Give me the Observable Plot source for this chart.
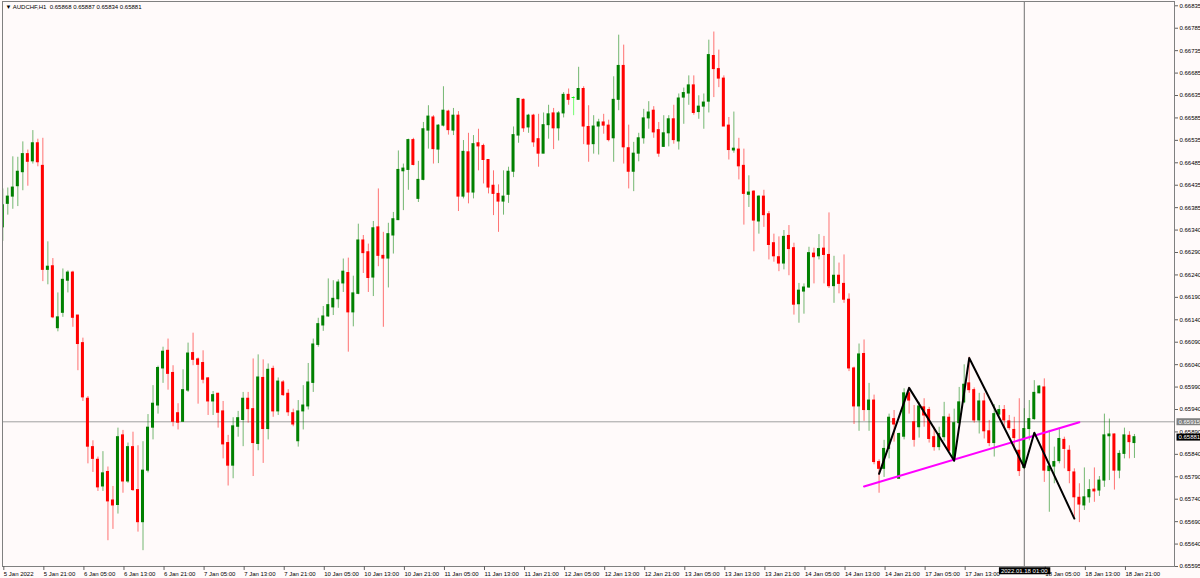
<!DOCTYPE html>
<html><head><meta charset="utf-8">
<script src="https://cdn.jsdelivr.net/npm/d3@7"></script>
<script src="https://cdn.jsdelivr.net/npm/@observablehq/plot@0.6"></script>
<style>
html,body{margin:0;padding:0;background:#fffafa;}
#chart{width:1200px;height:578px;overflow:hidden}
svg{display:block}
</style></head><body><div id="chart"></div>
<script>
const title = "\u25BC AUDCHF,H1  0.65868 0.65887 0.65834 0.65881";

const opens = [0.66345,0.66397,0.66413,0.66436,0.66467,0.66507,0.66491,0.66531,0.66481,0.66251,
0.66259,0.66122,0.66156,0.66227,0.66245,0.66150,0.66089,0.65966,0.65859,0.65831,
0.65772,0.65804,0.65741,0.65731,0.65885,0.65783,0.65859,0.65764,0.65693,0.65807,
0.65902,0.65951,0.66033,0.66072,0.66023,0.65934,0.65915,0.65984,0.66067,0.66053,
0.66045,0.66011,0.65960,0.65977,0.65938,0.65868,0.65818,0.65904,0.65919,0.65966,
0.65943,0.65866,0.66012,0.65899,0.66032,0.65938,0.66002,0.65977,0.65934,0.65872,
0.65938,0.65949,0.66001,0.66085,0.66128,0.66148,0.66168,0.66186,0.66221,0.66244,
0.66157,0.66198,0.66316,0.66290,0.66234,0.66345,0.66282,0.66276,0.66327,0.66361,
0.66469,0.66472,0.66538,0.66408,0.66450,0.66559,0.66588,0.66517,0.66570,0.66601,
0.66559,0.66592,0.66413,0.66511,0.66422,0.66531,0.66525,0.66494,0.66437,0.66419,
0.66402,0.66417,0.66468,0.66548,0.66627,0.66566,0.66592,0.66540,0.66508,0.66571,
0.66597,0.66564,0.66597,0.66638,0.66631,0.66627,0.66651,0.66567,0.66529,0.66568,
0.66577,0.66570,0.66542,0.66627,0.66702,0.66520,0.66468,0.66508,0.66542,0.66586,
0.66603,0.66560,0.66523,0.66553,0.66584,0.66535,0.66632,0.66641,0.66659,0.66600,
0.66612,0.66623,0.66724,0.66695,0.66674,0.66570,0.66515,0.66517,0.66481,0.66417,
0.66424,0.66358,0.66413,0.66374,0.66310,0.66279,0.66265,0.66326,0.66299,0.66175,
0.66203,0.66212,0.66287,0.66281,0.66298,0.66284,0.66215,0.66238,0.66220,0.66185,
0.66033,0.65949,0.66065,0.65941,0.65962,0.65826,0.65811,0.65855,0.65921,0.65789,
0.65882,0.65978,0.65914,0.65903,0.65947,0.65941,0.65881,0.65859,0.65881,0.65924,
0.65831,0.65912,0.65958,0.66000,0.65985,0.65918,0.65960,0.65894,0.65868,0.65931,
0.65941,0.65916,0.65897,0.65851,0.65813,0.65899,0.65921,0.65978,0.65991,0.65806,
0.65816,0.65828,0.65875,0.65851,0.65803,0.65747,0.65730,0.65748,0.65765,0.65763,
0.65785,0.65883,0.65887,0.65807,0.65844,0.65884,0.65868];

const highs = [0.66430,0.66432,0.66501,0.66500,0.66534,0.66516,0.66559,0.66540,0.66542,0.66313,
0.66276,0.66200,0.66253,0.66249,0.66248,0.66150,0.66100,0.65971,0.65873,0.65837,
0.65849,0.65815,0.65772,0.65901,0.65896,0.65868,0.65892,0.65862,0.65871,0.65931,
0.65995,0.66038,0.66080,0.66098,0.66039,0.65955,0.66030,0.66089,0.66111,0.66056,
0.66072,0.66013,0.65982,0.65978,0.65960,0.65885,0.65924,0.65938,0.65980,0.65980,
0.66054,0.66063,0.66052,0.66043,0.66038,0.66012,0.66006,0.65986,0.65943,0.65962,
0.65995,0.66044,0.66098,0.66144,0.66170,0.66231,0.66227,0.66229,0.66275,0.66277,
0.66237,0.66352,0.66327,0.66308,0.66358,0.66430,0.66334,0.66354,0.66378,0.66514,
0.66485,0.66540,0.66542,0.66491,0.66577,0.66614,0.66592,0.66572,0.66656,0.66604,
0.66608,0.66601,0.66537,0.66553,0.66548,0.66562,0.66529,0.66494,0.66470,0.66439,
0.66470,0.66478,0.66567,0.66630,0.66629,0.66595,0.66595,0.66595,0.66598,0.66615,
0.66608,0.66601,0.66643,0.66651,0.66634,0.66699,0.66656,0.66614,0.66592,0.66584,
0.66595,0.66582,0.66678,0.66770,0.66748,0.66571,0.66533,0.66553,0.66606,0.66623,
0.66612,0.66577,0.66592,0.66592,0.66615,0.66640,0.66653,0.66680,0.66680,0.66636,
0.66640,0.66759,0.66777,0.66737,0.66680,0.66588,0.66600,0.66542,0.66518,0.66459,
0.66426,0.66415,0.66427,0.66380,0.66330,0.66324,0.66338,0.66349,0.66310,0.66221,
0.66220,0.66301,0.66299,0.66329,0.66325,0.66377,0.66281,0.66266,0.66284,0.66198,
0.66036,0.66087,0.66096,0.66000,0.65974,0.65831,0.65874,0.65932,0.65940,0.65890,
0.65988,0.65991,0.65951,0.65958,0.65966,0.65947,0.65903,0.65903,0.65958,0.65932,
0.65943,0.65991,0.66041,0.66058,0.65990,0.65978,0.65978,0.65918,0.65953,0.65951,
0.65951,0.65929,0.65925,0.65966,0.65944,0.65962,0.66006,0.65995,0.66010,0.65896,
0.65859,0.65901,0.65881,0.65862,0.65811,0.65778,0.65813,0.65787,0.65813,0.65794,
0.65932,0.65921,0.65888,0.65851,0.65901,0.65893,0.65887];

const lows = [0.66314,0.66372,0.66385,0.66391,0.66426,0.66436,0.66485,0.66479,0.66225,0.66218,
0.66143,0.66114,0.66146,0.66200,0.66124,0.66028,0.65960,0.65822,0.65803,0.65761,
0.65761,0.65652,0.65677,0.65711,0.65757,0.65779,0.65761,0.65671,0.65630,0.65802,
0.65875,0.65932,0.66000,0.65985,0.65904,0.65897,0.65914,0.65980,0.66039,0.65954,
0.65999,0.65929,0.65929,0.65901,0.65833,0.65773,0.65789,0.65881,0.65860,0.65912,
0.65794,0.65851,0.65823,0.65875,0.65925,0.65929,0.65971,0.65927,0.65904,0.65859,
0.65897,0.65941,0.65980,0.66080,0.66115,0.66146,0.66150,0.66166,0.66201,0.66069,
0.66125,0.66196,0.66243,0.66201,0.66192,0.66258,0.66124,0.66211,0.66286,0.66360,
0.66382,0.66427,0.66481,0.66400,0.66448,0.66518,0.66485,0.66486,0.66567,0.66549,
0.66548,0.66380,0.66408,0.66397,0.66408,0.66470,0.66441,0.66419,0.66371,0.66334,
0.66372,0.66398,0.66455,0.66531,0.66555,0.66553,0.66522,0.66478,0.66508,0.66540,
0.66517,0.66536,0.66587,0.66615,0.66592,0.66627,0.66528,0.66489,0.66507,0.66505,
0.66551,0.66534,0.66489,0.66603,0.66485,0.66430,0.66424,0.66490,0.66529,0.66562,
0.66542,0.66500,0.66522,0.66523,0.66529,0.66516,0.66573,0.66615,0.66593,0.66584,
0.66562,0.66598,0.66632,0.66654,0.66568,0.66494,0.66509,0.66450,0.66350,0.66389,
0.66291,0.66330,0.66345,0.66273,0.66268,0.66247,0.66251,0.66238,0.66151,0.66133,
0.66153,0.66210,0.66220,0.66273,0.66220,0.66210,0.66177,0.66198,0.66177,0.66026,
0.65909,0.65894,0.65916,0.65894,0.65820,0.65757,0.65792,0.65833,0.65870,0.65789,
0.65875,0.65932,0.65859,0.65879,0.65903,0.65868,0.65850,0.65851,0.65872,0.65848,
0.65826,0.65909,0.65955,0.65978,0.65912,0.65888,0.65877,0.65860,0.65837,0.65925,
0.65901,0.65896,0.65851,0.65794,0.65809,0.65873,0.65918,0.65977,0.65781,0.65715,
0.65778,0.65822,0.65811,0.65778,0.65704,0.65692,0.65719,0.65735,0.65737,0.65750,
0.65770,0.65785,0.65764,0.65789,0.65833,0.65833,0.65834];

const closes = [0.66394,0.66413,0.66433,0.66468,0.66507,0.66490,0.66531,0.66489,0.66251,0.66258,
0.66146,0.66146,0.66229,0.66245,0.66145,0.66087,0.65969,0.65860,0.65833,0.65770,
0.65801,0.65739,0.65730,0.65881,0.65783,0.65859,0.65764,0.65693,0.65807,0.65902,
0.65955,0.66034,0.66070,0.66021,0.65915,0.65913,0.65985,0.66066,0.66052,0.66041,
0.66008,0.65960,0.65974,0.65935,0.65865,0.65818,0.65905,0.65923,0.65966,0.65943,
0.65868,0.66013,0.65899,0.66030,0.65938,0.66004,0.65974,0.65936,0.65909,0.65938,
0.65951,0.66002,0.66086,0.66131,0.66148,0.66173,0.66187,0.66223,0.66247,0.66157,
0.66199,0.66316,0.66288,0.66233,0.66343,0.66282,0.66276,0.66330,0.66363,0.66472,
0.66475,0.66538,0.66483,0.66450,0.66562,0.66590,0.66518,0.66570,0.66603,0.66560,
0.66592,0.66413,0.66512,0.66422,0.66529,0.66524,0.66494,0.66433,0.66419,0.66402,
0.66413,0.66468,0.66549,0.66629,0.66564,0.66592,0.66533,0.66508,0.66571,0.66595,
0.66564,0.66597,0.66638,0.66627,0.66631,0.66651,0.66568,0.66528,0.66568,0.66577,
0.66570,0.66538,0.66627,0.66702,0.66522,0.66468,0.66508,0.66542,0.66586,0.66599,
0.66555,0.66508,0.66553,0.66584,0.66538,0.66630,0.66642,0.66659,0.66598,0.66612,
0.66621,0.66726,0.66695,0.66674,0.66568,0.66516,0.66519,0.66480,0.66419,0.66422,
0.66360,0.66413,0.66372,0.66306,0.66281,0.66265,0.66324,0.66297,0.66174,0.66205,
0.66212,0.66288,0.66279,0.66297,0.66284,0.66215,0.66238,0.66220,0.66185,0.66033,
0.65949,0.66064,0.65941,0.65962,0.65826,0.65811,0.65855,0.65924,0.65909,0.65888,
0.65978,0.65962,0.65875,0.65949,0.65929,0.65877,0.65859,0.65888,0.65925,0.65851,
0.65912,0.65958,0.65997,0.65985,0.65918,0.65960,0.65894,0.65868,0.65932,0.65941,
0.65918,0.65901,0.65879,0.65806,0.65899,0.65921,0.65979,0.65993,0.65807,0.65816,
0.65826,0.65877,0.65855,0.65806,0.65748,0.65732,0.65748,0.65764,0.65761,0.65785,
0.65885,0.65887,0.65807,0.65844,0.65885,0.65870,0.65881];

// the "17 Jan 21:00" label is hidden under the crosshair time box in the reference
const xTickIndex = [0,8,16,24,32,40,48,56,64,72,80,88,96,104,112,120,128,136,144,152,160,168,176,184,192,208,216,224];
const xTickLabels = ["5 Jan 2022","5 Jan 21:00","6 Jan 05:00","6 Jan 13:00","6 Jan 21:00","7 Jan 05:00","7 Jan 13:00","7 Jan 21:00",
"10 Jan 05:00","10 Jan 13:00","10 Jan 21:00","11 Jan 05:00","11 Jan 13:00","11 Jan 21:00","12 Jan 05:00","12 Jan 13:00","12 Jan 21:00",
"13 Jan 05:00","13 Jan 13:00","13 Jan 21:00","14 Jan 05:00","14 Jan 13:00","14 Jan 21:00","17 Jan 05:00","17 Jan 13:00",
"18 Jan 05:00","18 Jan 13:00","18 Jan 21:00"];
const yTickLabels = ["0.66835","0.66785","0.66735","0.66685","0.66635","0.66585","0.66535","0.66485","0.66435","0.66385",
"0.66340","0.66290","0.66240","0.66190","0.66140","0.66090","0.66040","0.65990","0.65940","0.65890",
"0.65840","0.65790","0.65740","0.65690","0.65640","0.65595"];

const zigzagIndex = [175,181,190,193,204,206,214];
const zigzagPrice = [0.65800,0.65990,0.65829,0.66056,0.65814,0.65891,0.65701];
const trendIndex = [172,215];
const trendPrice = [0.65772,0.65914];

const crossIndex = 204;
const crossPrice = 0.65915;
const crossPriceLabel = "0.65915";
const crossTimeLabel = "2022.01.18 01:00";
const lastPrice = 0.65881;
const lastPriceLabel = "0.65881";

const candles = opens.map((o, i) => ({i, open: o, high: highs[i], low: lows[i], close: closes[i]}));
const candleColor = d => d.close > d.open ? "#008000" : d.close < d.open ? "#ff0000" : "#00ff00";
const yTicks = yTickLabels.map((_, k) => 0.66835 - k * 0.000496);
const yFmt = new Map(yTicks.map((v, k) => [v, yTickLabels[k]]));
const xFmt = new Map(xTickIndex.map((v, k) => [v, xTickLabels[k]]));
const zigzag = zigzagIndex.map((x, k) => ({x, y: zigzagPrice[k]}));
const trend = trendIndex.map((x, k) => ({x, y: trendPrice[k]}));

const chart = Plot.plot({
  width: 1200, height: 578,
  marginTop: 1, marginLeft: 2, marginRight: 26, marginBottom: 12,
  style: {background: "#fffafa", fontFamily: "'Liberation Sans', Arial, sans-serif", fontSize: "6px", color: "#000", overflow: "visible"},
  x: {type: "linear", domain: [-0.06, 234], axis: null},
  y: {domain: [0.65595, 0.668445], axis: null},
  marks: [
    Plot.ruleY([crossPrice], {stroke: "#a0a0a0", strokeWidth: 1}),
    Plot.ruleX([crossIndex], {stroke: "#707070", strokeWidth: 1}),
    Plot.ruleX(candles, {x: "i", y1: "low", y2: "high", stroke: candleColor, strokeOpacity: 0.55, clip: true}),
    Plot.rect(candles, {x1: d => d.i - 0.3, x2: d => d.i + 0.3, y1: "open", y2: "close", fill: candleColor, insetTop: -0.5, insetBottom: -0.5, clip: true}),
    Plot.line(trend, {x: "x", y: "y", stroke: "#ff00ff", strokeWidth: 2}),
    Plot.line(zigzag, {x: "x", y: "y", stroke: "#000000", strokeWidth: 2}),
    Plot.frame({stroke: "#808080"}),
    Plot.axisY({anchor: "right", ticks: yTicks, tickFormat: d => yFmt.get(d), tickSize: 3, tickPadding: 2, stroke: "#606060", fill: "#000"}),
    Plot.axisX({anchor: "bottom", ticks: xTickIndex, tickFormat: d => xFmt.get(d), tickSize: 4, tickPadding: 1, textAnchor: "start", dx: 1, stroke: "#606060", fill: "#000"}),
    Plot.text([title], {frameAnchor: "top-left", dx: 3, dy: 3, textAnchor: "start", lineAnchor: "top", fill: "#000"}),
    Plot.text([{y: crossPrice, t: crossPriceLabel}], {y: "y", text: "t", frameAnchor: "right", dx: 4, textAnchor: "start", fill: "#ffffff", ariaDescription: "box-gray"}),
    Plot.text([{y: lastPrice, t: lastPriceLabel}], {y: "y", text: "t", frameAnchor: "right", dx: 4, textAnchor: "start", fill: "#ffffff", ariaDescription: "box-black"}),
    Plot.text([{x: crossIndex, t: crossTimeLabel}], {x: "x", text: "t", frameAnchor: "bottom", dy: 2, lineAnchor: "top", textAnchor: "middle", fill: "#ffffff", ariaDescription: "box-black-time"})
  ]
});
document.getElementById("chart").append(chart);

const boxFill = {"box-gray": "#808080", "box-black": "#000000", "box-black-time": "#000000"};
for (const [label, fill] of Object.entries(boxFill)) {
  chart.querySelectorAll(`g[aria-description="${label}"] text`).forEach(t => {
    const b = t.getBBox();
    const r = document.createElementNS("http://www.w3.org/2000/svg", "rect");
    r.setAttribute("x", b.x - 2);
    r.setAttribute("y", b.y - 0.5);
    r.setAttribute("width", b.width + 4);
    r.setAttribute("height", b.height + 1);
    r.setAttribute("fill", fill);
    if (t.getAttribute("transform")) r.setAttribute("transform", t.getAttribute("transform"));
    t.parentNode.insertBefore(r, t);
  });
}
</script>
</body></html>
